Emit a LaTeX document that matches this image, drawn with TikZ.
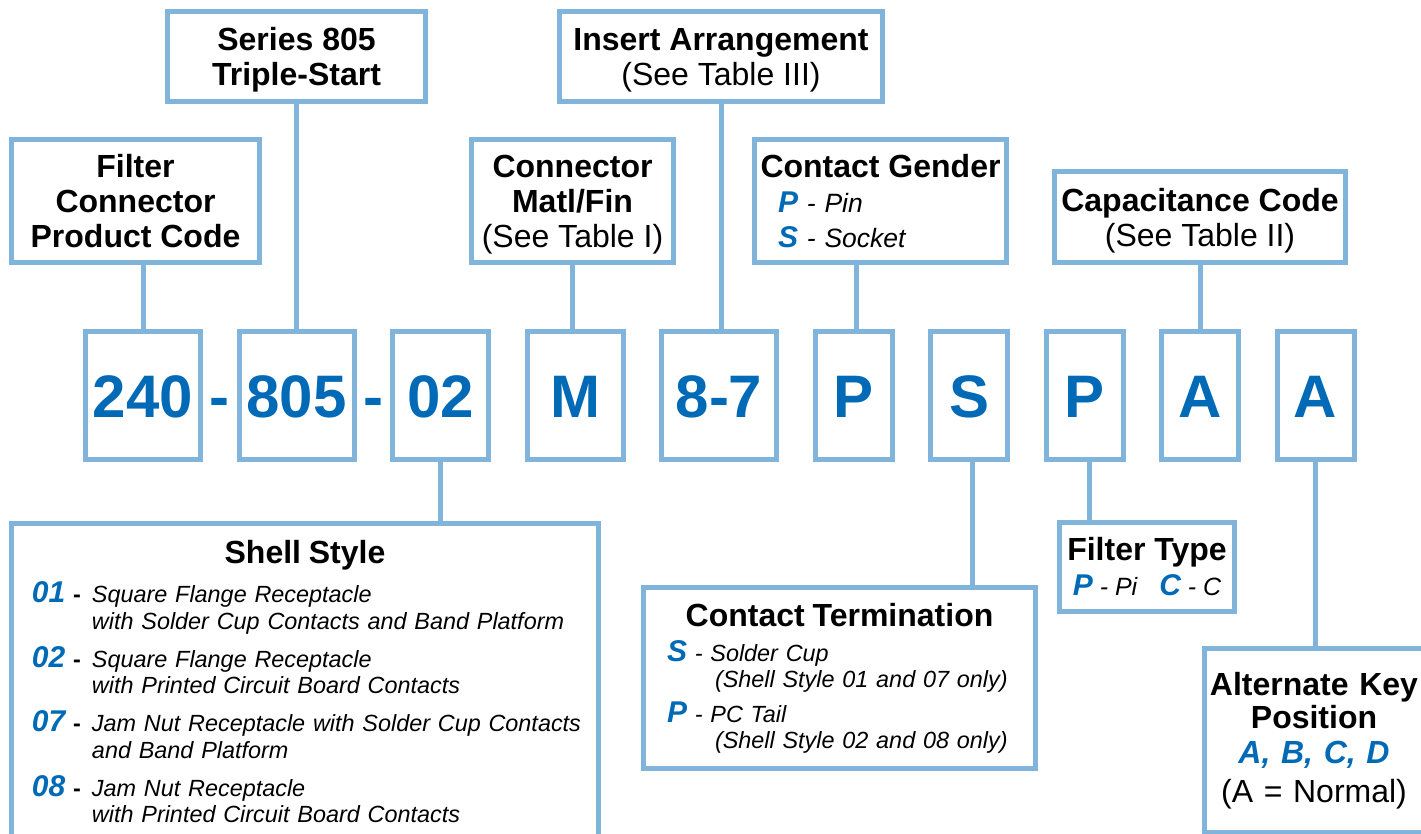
\documentclass[tikz,border=0pt]{standalone}
\usepackage{fontspec}
\setmainfont{Liberation Sans}
\usepackage{xcolor}
\usepackage{tikz}
\usetikzlibrary{positioning}

\definecolor{keyblue}{RGB}{128,180,218}
\definecolor{codeblue}{RGB}{0,106,182}
\setlength{\lineskiplimit}{-100pt}

\newcommand{\keyltr}[1]{{\fontsize{30}{30}\selectfont\bfseries\itshape\color{codeblue}#1}}
\newcommand{\nodp}[1]{\raisebox{0pt}[\height][0pt]{#1}}
\newcommand{\shellitem}[2]{\hangindent=80.5pt\hangafter=1
  \hspace*{20.5pt}\makebox[60pt][l]{\keyltr{#1} {\bfseries\upshape -}}#2\par}

\begin{document}
\begin{tikzpicture}[
    x=1pt, y=-1pt,
    node distance=33.5pt,
    infobox/.style={rectangle, draw=keyblue, line width=5pt, inner sep=0pt},
    titlebox/.style={infobox, align=center,
                     font=\fontsize{32}{35}\selectfont\bfseries},
    codebox/.style={infobox, minimum height=128pt, text height=43pt,
                    text depth=0pt, text=codeblue,
                    font=\fontsize{60}{66}\selectfont\bfseries},
    hyph/.style={inner sep=0pt, text height=43pt, text depth=0pt,
                 text=codeblue, font=\fontsize{60}{66}\selectfont\bfseries},
    conn/.style={draw=keyblue, line width=5pt}
]
    \useasboundingbox (0,0) rectangle (1421,834);

    % Part number
    \node[codebox, minimum width=115pt] (c240) at (143,395.5) {240};
    \node[codebox, minimum width=115pt, right=of c240] (c805) {805};
    \node[codebox, minimum width=96pt, right=of c805] (c02) {02};
    \node[codebox, minimum width=96pt, right=of c02] (cM) {M};
    \node[codebox, minimum width=115pt, right=of cM] (c87) {8-7};
    \node[codebox, minimum width=77pt, right=of c87] (cP) {P};
    \node[codebox, minimum width=77pt, right=of cP] (cS) {S};
    \node[codebox, minimum width=77pt, right=of cS] (cF) {P};
    \node[codebox, minimum width=77pt, right=of cF] (cA) {A};
    \node[codebox, minimum width=77pt, right=of cA] (cK) {A};
    \path (c240.east) -- (c805.west) node[hyph, midway] (d1) {-};
    \path (c805.east) -- (c02.west) node[hyph, midway] (d2) {-};

    % Upper boxes
    \node[titlebox, minimum width=258pt, minimum height=90pt] (ser) at (296.5,56.5)
        {Series 805\\\nodp{Triple-Start}};
    \node[titlebox, minimum width=323pt, minimum height=90pt] (ins) at (721,56.5)
        {Insert Arrangement\\{\mdseries\nodp{(See Table III)}}};
    \node[titlebox, minimum width=248pt, minimum height=123pt] (fpc) at (135.5,201)
        {Filter\\Connector\\Product Code};
    \node[titlebox, minimum width=202pt, minimum height=123pt] (matl) at (572.5,201)
        {Connector\\Matl/Fin\\{\mdseries\nodp{(See Table I)}}};
    \node[infobox, minimum width=252pt, minimum height=123pt, text width=252pt,
          align=left, font=\fontsize{26.5}{35}\selectfont\itshape] (gen) at (880.5,201)
        {\hspace*{\fill}{\fontsize{32}{35}\selectfont\bfseries\upshape Contact Gender}\hspace*{\fill}\par
         \hspace*{23.5pt}\keyltr{P} - Pin\par
         \hspace*{23.5pt}\keyltr{S} - Socket};
    \node[titlebox, minimum width=291pt, minimum height=91pt] (cap) at (1200,217)
        {Capacitance Code\\{\mdseries\nodp{(See Table II)}}};

    % Lower boxes
    \node[infobox, anchor=north west, text width=587pt, inner ysep=17pt, align=left,
          font=\fontsize{23.4}{26.5}\selectfont\itshape] (shell) at (9,521)
        {\hspace*{\fill}{\fontsize{32}{35}\selectfont\bfseries\upshape Shell Style}\hspace*{\fill}\par
         \vspace{10.5pt}
         \shellitem{01}{Square Flange Receptacle\newline with Solder Cup Contacts and Band Platform}
         \vspace{11.5pt}
         \shellitem{02}{Square Flange Receptacle\newline with Printed Circuit Board Contacts}
         \vspace{11.5pt}
         \shellitem{07}{Jam Nut Receptacle with Solder Cup Contacts\newline and Band Platform}
         \vspace{11.5pt}
         \shellitem{08}{Jam Nut Receptacle\newline with Printed Circuit Board Contacts}
         \vspace*{120pt}};
    \node[infobox, minimum width=392pt, minimum height=181pt, text width=392pt,
          align=left, font=\fontsize{23.4}{26}\selectfont\itshape] (term) at (839.5,678)
        {\hspace*{\fill}{\fontsize{32}{35}\selectfont\bfseries\upshape Contact Termination}\hspace*{\fill}\par
         \vspace{9pt}
         \hangindent=71.5pt\hangafter=1
         \hspace*{23.5pt}\keyltr{S} - Solder Cup\newline (Shell Style 01 and 07 only)\par
         \vspace{9pt}
         \hangindent=71.5pt\hangafter=1
         \hspace*{23.5pt}\keyltr{P} - PC Tail\newline (Shell Style 02 and 08 only)\par};
    \node[infobox, minimum width=175pt, minimum height=89pt, align=center,
          font=\fontsize{25}{35}\selectfont\itshape] (ftype) at (1147,567)
        {{\fontsize{32}{35}\selectfont\bfseries\upshape Filter Type}\\
         \keyltr{P} - Pi\hspace{22pt}\keyltr{C} - C};
    \node[infobox, anchor=north west, text width=219pt, inner ysep=23.6pt, align=center,
          font=\fontsize{32}{35}\selectfont] (akey) at (1202,646)
        {\textbf{Alternate Key}\\[-2pt]
         \textbf{Position}\\
         \textcolor{codeblue}{\bfseries\itshape A, B, C, D}\\[4pt]
         (A = Normal)\par\vspace*{150pt}};

    % Leaders
    \draw[conn] (c240.north) -- (c240.north |- fpc.south);
    \draw[conn] (ser.south) -- (ser.south |- c805.north);
    \draw[conn] (matl.south) -- (matl.south |- cM.north);
    \draw[conn] (ins.south) -- (ins.south |- c87.north);
    \draw[conn] ([xshift=2.5pt]cP.north) -- ([xshift=2.5pt]cP.north |- gen.south);
    \draw[conn] (cap.south) -- (cap.south |- cA.north);
    \draw[conn] (c02.south) -- (c02.south |- shell.north);
    \draw[conn] ([xshift=3pt]cS.south) -- ([xshift=3pt]cS.south |- term.north);
    \draw[conn] ([xshift=5pt]cF.south) -- ([xshift=5pt]cF.south |- ftype.north);
    \draw[conn] (cK.south) -- (cK.south |- akey.north);
\end{tikzpicture}
\end{document}
